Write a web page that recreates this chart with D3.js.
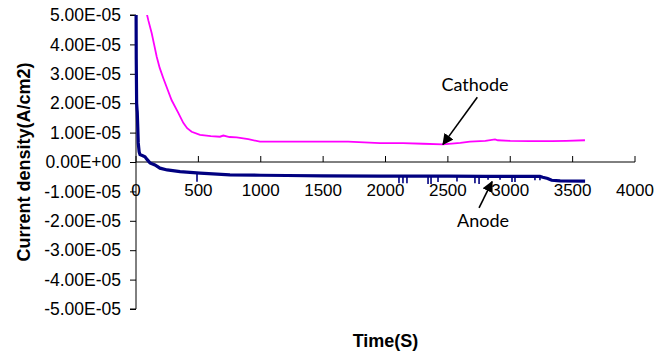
<!DOCTYPE html>
<html>
<head>
<meta charset="utf-8">
<script src="https://cdn.jsdelivr.net/npm/d3@7"></script>
<style>
  html, body { margin: 0; padding: 0; background: #fff; }
  svg { display: block; }
</style>
</head>
<body>
<svg id="chart" width="671" height="356"></svg>
<script>
// ---------- DATA ----------
// Time in seconds, current density in A/cm2
const cathodeTime = [86, 100, 126, 145, 166, 190, 219, 250, 286, 339, 379, 410, 446, 513, 600, 673, 700, 750, 807, 900, 994, 1200, 1475, 1700, 1956, 2140, 2300, 2461, 2600, 2677, 2800, 2878, 2900, 3000, 3158, 3335, 3450, 3599];
const cathodeValue = [5.05e-5, 4.8e-5, 4.38e-5, 4.0e-5, 3.58e-5, 3.2e-5, 2.85e-5, 2.5e-5, 2.1e-5, 1.67e-5, 1.33e-5, 1.15e-5, 1.03e-5, 0.92e-5, 0.88e-5, 0.86e-5, 0.9e-5, 0.85e-5, 0.84e-5, 0.78e-5, 0.69e-5, 0.69e-5, 0.69e-5, 0.69e-5, 0.64e-5, 0.64e-5, 0.62e-5, 0.60e-5, 0.65e-5, 0.69e-5, 0.72e-5, 0.77e-5, 0.74e-5, 0.72e-5, 0.71e-5, 0.71e-5, 0.72e-5, 0.74e-5];

const anodeTime = [0, 2, 5, 8, 10, 14, 18, 25, 32, 50, 72, 90, 112, 152, 192, 250, 353, 513, 753, 1000, 1208, 1500, 1956, 2200, 2500, 2800, 3000, 3238, 3260, 3300, 3332, 3400, 3600];
const anodeValue = [6.0e-5, 3.5e-5, 2.0e-5, 1.8e-5, 1.7e-5, 1.2e-5, 0.65e-5, 0.35e-5, 0.25e-5, 0.22e-5, 0.18e-5, 0.08e-5, -0.03e-5, -0.10e-5, -0.21e-5, -0.27e-5, -0.33e-5, -0.38e-5, -0.44e-5, -0.45e-5, -0.46e-5, -0.47e-5, -0.48e-5, -0.48e-5, -0.48e-5, -0.49e-5, -0.49e-5, -0.49e-5, -0.52e-5, -0.56e-5, -0.62e-5, -0.64e-5, -0.65e-5];

// Downward noise spikes visible on the anode trace (time, lowest value)
const anodeSpikeTime = [489, 2108, 2140, 2172, 2341, 2365, 2421, 2573, 2717, 2750, 2822, 2918, 3014, 3038, 3198, 3238];
const anodeSpikeValue = [-0.67e-5, -0.72e-5, -0.72e-5, -0.72e-5, -0.75e-5, -0.75e-5, -0.68e-5, -0.66e-5, -0.72e-5, -0.75e-5, -0.60e-5, -0.60e-5, -0.68e-5, -0.68e-5, -0.62e-5, -0.62e-5];

const xTickValues = [0, 500, 1000, 1500, 2000, 2500, 3000, 3500, 4000];
const xTickLabels = ["0", "500", "1000", "1500", "2000", "2500", "3000", "3500", "4000"];
const yTickValues = [5e-5, 4e-5, 3e-5, 2e-5, 1e-5, 0, -1e-5, -2e-5, -3e-5, -4e-5, -5e-5];
const yTickLabels = ["5.00E-05", "4.00E-05", "3.00E-05", "2.00E-05", "1.00E-05", "0.00E+00", "-1.00E-05", "-2.00E-05", "-3.00E-05", "-4.00E-05", "-5.00E-05"];

const xTitle = "Time(S)";
const yTitle = "Current density(A/cm2)";

// Annotations: label, text anchor (time, value), arrow tail, arrow tip
const annotLabels = ["Cathode", "Anode"];
const annotText = [[2717, 2.43e-5], [2782, -2.2e-5]];
const annotTail = [[2736, 2.2e-5], [2750, -1.56e-5]];
const annotTip = [[2461, 0.60e-5], [2854, -0.67e-5]];

// ---------- CHART ----------
const svg = d3.select("#chart");
const pLeft = 136, pRight = 635, pTop = 15, pBottom = 309;

const x = d3.scaleLinear().domain([0, 4000]).range([pLeft, pRight]);
const y = d3.scaleLinear().domain([-5e-5, 5e-5]).range([pBottom, pTop]);

const FONT = "'Liberation Sans', Arial, sans-serif";

const defs = svg.append("defs");
defs.append("clipPath").attr("id", "plotclip")
  .append("rect").attr("x", pLeft - 2).attr("y", pTop).attr("width", pRight - pLeft + 4).attr("height", pBottom - pTop);

// y axis
const yAxis = svg.append("g").attr("transform", `translate(${pLeft},0)`)
  .call(d3.axisLeft(y).tickValues(yTickValues).tickSize(6).tickPadding(9)
    .tickFormat((d, i) => yTickLabels[i]));
yAxis.select(".domain").attr("stroke", "#000").attr("stroke-width", 1).attr("d", `M-6,${y(5e-5)}H0V${y(-5e-5)}H-6`);
yAxis.selectAll(".tick line").attr("stroke", "#000");
yAxis.selectAll("text").attr("font-family", FONT).attr("font-size", 17.5).attr("fill", "#000");

// x axis (ticks pointing up, labels below)
const xAxisG = svg.append("g").attr("transform", `translate(0,${y(0)})`);
xAxisG.append("line").attr("x1", pLeft).attr("x2", pRight).attr("stroke", "#000").attr("stroke-width", 1);
xAxisG.selectAll(".xt").data(xTickValues).join("line")
  .attr("x1", d => x(d)).attr("x2", d => x(d)).attr("y1", 0).attr("y2", -6)
  .attr("stroke", "#000");
xAxisG.selectAll(".xl").data(xTickValues).join("text")
  .attr("x", d => x(d)).attr("y", 34)
  .attr("text-anchor", "middle")
  .attr("font-family", FONT).attr("font-size", 17).attr("fill", "#000")
  .text((d, i) => xTickLabels[i]);

// series
const plot = svg.append("g").attr("clip-path", "url(#plotclip)");
const line = d3.line().x(d => x(d[0])).y(d => y(d[1]));

const anodeData = anodeTime.map((t, i) => [t, anodeValue[i]]);
const cathodeData = cathodeTime.map((t, i) => [t, cathodeValue[i]]);

plot.append("path").datum(cathodeData)
  .attr("d", line).attr("fill", "none").attr("stroke", "#FF00FF").attr("stroke-width", 1.8);

plot.append("path").datum(anodeData)
  .attr("d", line).attr("fill", "none").attr("stroke", "#000080").attr("stroke-width", 3.2);

const anodeInterp = t => {
  const i = d3.bisectRight(anodeTime, t) - 1;
  const t0 = anodeTime[i], t1 = anodeTime[i + 1];
  const f = (t - t0) / (t1 - t0);
  return anodeValue[i] + f * (anodeValue[i + 1] - anodeValue[i]);
};
plot.selectAll(".spike").data(anodeSpikeTime).join("line")
  .attr("x1", d => x(d)).attr("x2", d => x(d))
  .attr("y1", d => y(anodeInterp(d)))
  .attr("y2", (d, i) => y(anodeSpikeValue[i]))
  .attr("stroke", "#000080").attr("stroke-width", 1.6);

// annotations
defs.append("marker").attr("id", "arrow").attr("viewBox", "0 0 10 10")
  .attr("refX", 9).attr("refY", 5).attr("markerWidth", 7).attr("markerHeight", 7)
  .attr("markerUnits", "strokeWidth").attr("orient", "auto")
  .append("path").attr("d", "M0,0L10,5L0,10z").attr("fill", "#000");

annotLabels.forEach((lab, i) => {
  svg.append("line")
    .attr("x1", x(annotTail[i][0])).attr("y1", y(annotTail[i][1]))
    .attr("x2", x(annotTip[i][0])).attr("y2", y(annotTip[i][1]))
    .attr("stroke", "#000").attr("stroke-width", 1.6)
    .attr("marker-end", "url(#arrow)");
  svg.append("text")
    .attr("x", x(annotText[i][0])).attr("y", y(annotText[i][1]))
    .attr("text-anchor", "middle")
    .attr("font-family", "Lato, 'Open Sans', sans-serif").attr("font-size", 18).attr("fill", "#000")
    .text(lab);
});

// axis titles
svg.append("text")
  .attr("x", (pLeft + pRight) / 2).attr("y", 347)
  .attr("text-anchor", "middle")
  .attr("font-family", FONT).attr("font-weight", "bold").attr("font-size", 18)
  .text(xTitle);

svg.append("text")
  .attr("transform", `translate(30,${(pTop + pBottom) / 2}) rotate(-90)`)
  .attr("text-anchor", "middle")
  .attr("font-family", FONT).attr("font-weight", "bold").attr("font-size", 18)
  .text(yTitle);
</script>
</body>
</html>
